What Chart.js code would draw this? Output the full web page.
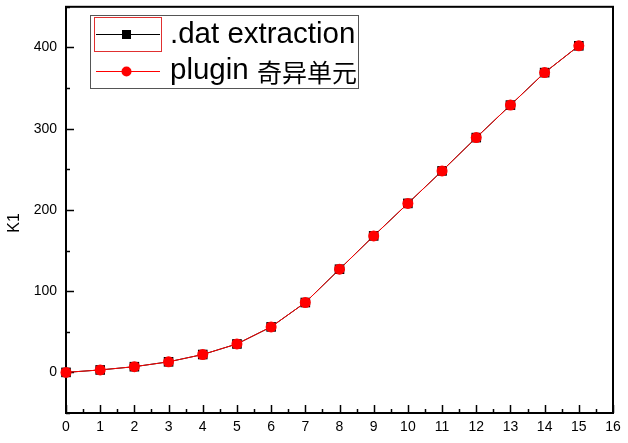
<!DOCTYPE html>
<html>
<head>
<meta charset="utf-8">
<script src="https://cdn.jsdelivr.net/npm/chart.js@4.4.0/dist/chart.umd.min.js"></script>
<style>
    html, body { margin: 0; padding: 0; background: #fff; }
    #wrap { width: 628px; height: 443px; }
</style>
</head>
<body>
<div id="wrap"><canvas id="k1Chart" width="628" height="443"></canvas></div>
<script>
// ===========================
// Data
// ===========================

const xValues = [0, 1, 2, 3, 4, 5, 6, 7, 8, 9, 10, 11, 12, 13, 14, 15];
const datValues = [0, 3, 7, 13, 22, 35, 56, 86, 127, 168, 208, 248, 289, 329, 369, 402];
const pluginValues = [0, 3, 7, 13, 22, 35, 56, 86, 127, 168, 208, 248, 289, 329, 369, 402];
const seriesLabels = ['.dat extraction', 'plugin 奇异单元'];
const yLabelTicks = [0, 100, 200, 300, 400];
const yTitle = 'K1';

const FONT = '"Liberation Sans", Arial, sans-serif';

function toPoints(values) {
    return xValues.map((x, i) => ({ x: x, y: values[i] }));
}

// ===========================
// Frame + inward ticks (Origin style)
// ===========================

const framePlugin = {
    id: 'frame',
    beforeDatasetsDraw(chart) {
        const { ctx, chartArea: a, scales } = chart;
        ctx.save();
        ctx.strokeStyle = '#000';
        ctx.lineWidth = 1.5;

        // x ticks: major on integers, minor on halves
        const xs = scales.x;
        for (let v = xs.min; v <= xs.max; v += 0.5) {
            const px = Math.round(xs.getPixelForValue(v)) + 0.5;
            const len = Number.isInteger(v) ? 8 : 4;
            ctx.beginPath();
            ctx.moveTo(px, a.bottom);
            ctx.lineTo(px, a.bottom - len);
            ctx.stroke();
        }

        // y ticks: major every 100, minor every 50
        const ys = scales.y;
        for (let v = ys.min; v <= ys.max; v += 50) {
            const py = Math.round(ys.getPixelForValue(v)) + 0.5;
            const len = v % 100 === 0 ? 8 : 4;
            ctx.beginPath();
            ctx.moveTo(a.left, py);
            ctx.lineTo(a.left + len, py);
            ctx.stroke();
        }

        ctx.lineWidth = 2;
        ctx.strokeRect(a.left, a.top, a.right - a.left, a.bottom - a.top);

        // y title
        ctx.fillStyle = '#000';
        ctx.font = '16px ' + FONT;
        ctx.textAlign = 'center';
        ctx.textBaseline = 'middle';
        ctx.translate(15, 223);
        ctx.rotate(-Math.PI / 2);
        ctx.fillText(yTitle, 0, 0);
        ctx.restore();
    }
};

// ===========================
// Legend box
// ===========================

const legendPlugin = {
    id: 'boxLegend',
    afterDraw(chart) {
        const ctx = chart.ctx;
        const ds = chart.data.datasets;
        ctx.save();

        ctx.fillStyle = '#fff';
        ctx.fillRect(90, 15, 268, 73);
        ctx.strokeStyle = '#555';
        ctx.lineWidth = 1;
        ctx.strokeRect(90.5, 15.5, 268, 73);

        // selection highlight round the first sample
        ctx.strokeStyle = '#e03030';
        ctx.strokeRect(94.5, 17.5, 67, 34);

        const rows = [34, 71];
        rows.forEach((y, i) => {
            ctx.strokeStyle = ds[i].borderColor;
            ctx.lineWidth = 1;
            ctx.beginPath();
            ctx.moveTo(96, y + 0.5);
            ctx.lineTo(160, y + 0.5);
            ctx.stroke();
            ctx.fillStyle = ds[i].pointBackgroundColor;
            if (i === 0) {
                ctx.fillRect(122, y - 4, 9, 9);
            } else {
                ctx.beginPath();
                ctx.arc(126.5, y + 0.5, 5, 0, Math.PI * 2);
                ctx.fill();
            }
        });

        ctx.fillStyle = '#000';
        ctx.textBaseline = 'middle';
        ctx.textAlign = 'left';
        ctx.font = '29.5px ' + FONT;
        ctx.fillText(seriesLabels[0], 170, 35);

        const parts = seriesLabels[1].split(' ');
        ctx.fillText(parts[0], 170, 71);
        const w = ctx.measureText(parts[0] + ' ').width;
        ctx.font = '25px "Noto Sans CJK SC", sans-serif';
        ctx.fillText(parts[1], 170 + w, 72);
        ctx.restore();
    }
};

// ===========================
// Chart
// ===========================

const ctx = document.getElementById('k1Chart');

new Chart(ctx, {
    type: 'line',
    data: {
        datasets: [
            {
                label: seriesLabels[0],
                data: toPoints(datValues),
                order: 2,
                borderColor: '#000000',
                borderWidth: 1,
                pointStyle: 'rect',
                pointRadius: 6.8,
                pointBackgroundColor: '#000000',
                pointBorderWidth: 0,
                clip: false
            },
            {
                label: seriesLabels[1],
                data: toPoints(pluginValues),
                order: 1,
                borderColor: '#ff0000',
                borderWidth: 1,
                pointStyle: 'circle',
                pointRadius: 5.5,
                pointBackgroundColor: '#ff0000',
                pointBorderWidth: 0,
                clip: false
            }
        ]
    },
    options: {
        responsive: false,
        animation: false,
        layout: { padding: { top: 5, right: 15, left: 0, bottom: 0 } },
        plugins: {
            legend: { display: false },
            tooltip: { enabled: false }
        },
        scales: {
            x: {
                type: 'linear',
                min: 0,
                max: 16,
                grid: { display: false, drawTicks: false, tickLength: 0 },
                border: { display: false },
                ticks: {
                    stepSize: 1,
                    color: '#000',
                    padding: 6,
                    maxRotation: 0,
                    autoSkip: false,
                    font: { family: FONT, size: 14 }
                },
                afterFit(scale) {
                    scale.height = 30;
                    scale.paddingLeft = 0;
                    scale.paddingRight = 0;
                }
            },
            y: {
                min: -50,
                max: 450,
                grid: { display: false, drawTicks: false, tickLength: 0 },
                border: { display: false },
                ticks: {
                    stepSize: 50,
                    color: '#000',
                    padding: 9,
                    autoSkip: false,
                    font: { family: FONT, size: 14 },
                    callback: (v) => yLabelTicks.includes(v) ? String(v) : ''
                },
                afterFit(scale) {
                    scale.width = 66;
                    scale.paddingTop = 0;
                    scale.paddingBottom = 0;
                }
            }
        }
    },
    plugins: [framePlugin, legendPlugin]
});
</script>
</body>
</html>
